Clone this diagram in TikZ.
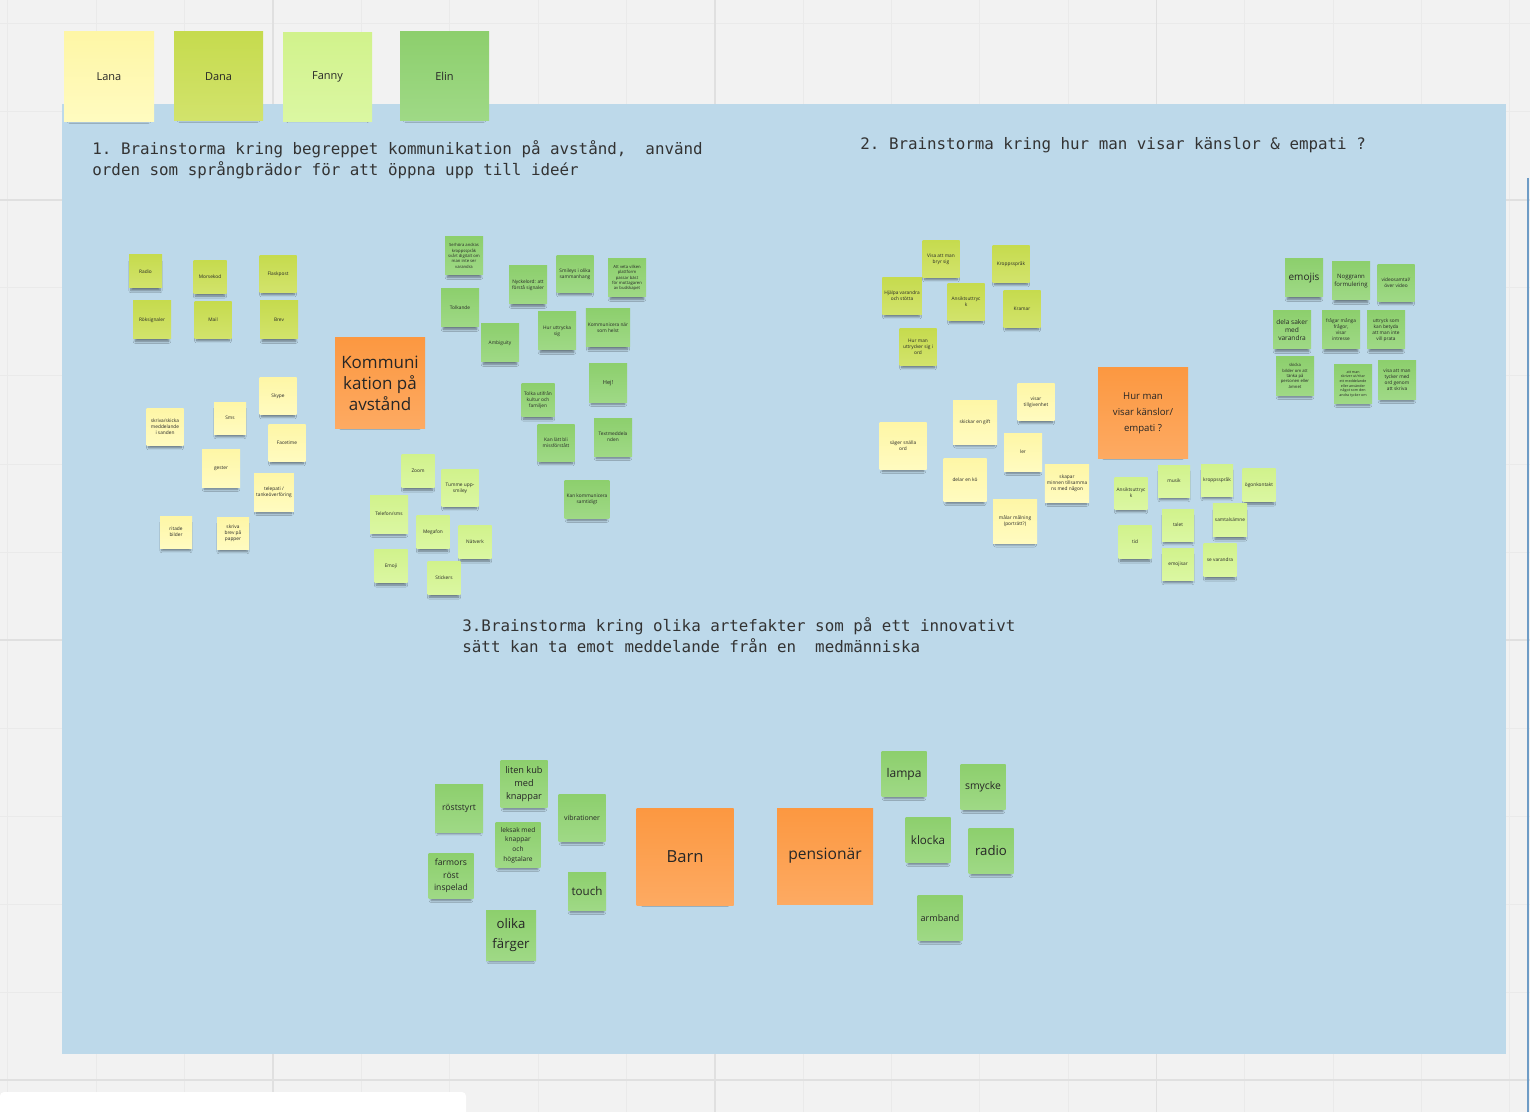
\documentclass[tikz,border=0pt]{standalone}
\usepackage{fontspec}
\setmainfont{Open Sans}
\setmonofont{DejaVu Sans Mono}
\usepackage{tikz}
\usetikzlibrary{shadows.blur}

\definecolor{board}{HTML}{F2F2F2}
\definecolor{gridfine}{HTML}{EAEAEA}
\definecolor{gridheavy}{HTML}{E0E0E0}
\definecolor{panel}{HTML}{BDD9EA}
\definecolor{edgeblue}{HTML}{6E9CC6}
\definecolor{lanaA}{HTML}{FEF6A6}
\definecolor{lanaB}{HTML}{FFFBC0}
\definecolor{danaA}{HTML}{C6DB4E}
\definecolor{danaB}{HTML}{D2E36C}
\definecolor{fannyA}{HTML}{D1F28C}
\definecolor{fannyB}{HTML}{DBF7A2}
\definecolor{elinA}{HTML}{8DCF6D}
\definecolor{elinB}{HTML}{9FD986}
\definecolor{topicA}{HTML}{FC9841}
\definecolor{topicB}{HTML}{FDAA62}

\begin{document}
\begin{tikzpicture}[x=0.5pt,y=-0.5pt,
  every node/.style={inner sep=1pt, align=center, text=black!85},
  note/.style={minimum size=#1*0.5pt,
    blur shadow={shadow xshift=0pt, shadow yshift=-2.6pt, shadow scale=0.88,
      shadow blur radius=1.2pt, shadow opacity=45, shadow blur steps=6},
    font=\fontsize{2.4}{3}\selectfont},
  lana/.style={note=#1, top color=lanaA, bottom color=lanaB},
  dana/.style={note=#1, top color=danaA, bottom color=danaB},
  fanny/.style={note=#1, top color=fannyA, bottom color=fannyB},
  elin/.style={note=#1, top color=elinA, bottom color=elinB},
  topic/.style={note=#1, top color=topicA, bottom color=topicB},
  task/.style={anchor=north west, align=left, inner sep=0pt, text=black!80,
    font=\ttfamily\fontsize{7.92}{10.5}\selectfont}]
  \useasboundingbox (0,0) rectangle (1530,1112);
  % board
  \fill[board] (0,0) rectangle (1530,1112);
  \draw[gridfine, line width=0.5pt, xstep=44.175pt, ystep=44pt, shift={(273,200)}]
    (-273,-200) grid (1257,912);
  \draw[gridheavy, line width=0.8pt, xstep=220.875pt, ystep=220pt, shift={(273,200)}]
    (-273,-200) grid (1257,912);
  \fill[panel] (62,104) rectangle (1506,1054);
  \draw[edgeblue, line width=1pt] (1528,178) -- (1528,1112);
  \fill[white, rounded corners=2pt] (0,1092) rectangle (466,1125);

  % group members
  \node[lana=90, font=\fontsize{5.5}{7}\selectfont] (lana) at (109,77) {Lana};
  \node[dana=89, font=\fontsize{5.5}{7}\selectfont] (dana) at (218.5,76.5) {Dana};
  \node[fanny=89, font=\fontsize{5.5}{7}\selectfont] (fanny) at (327.5,77) {Fanny};
  \node[elin=89, font=\fontsize{5.5}{7}\selectfont] (elin) at (444.5,76.5) {Elin};

  % tasks
  \node[task] (task1) at (92,140) {1. Brainstorma kring begreppet kommunikation på avstånd,\ \ använd\\orden som språngbrädor för att öppna upp till ideér};
  \node[task] (task2) at (860,137) {2. Brainstorma kring hur man visar känslor \& empati ?};
  \node[task] (task3) at (462,617) {3.Brainstorma kring olika artefakter som på ett innovativt\\sätt kan ta emot meddelande från en\ \ medmänniska};

  % 1: kommunikation
  \node[topic=90, font=\fontsize{8.5}{10.5}\selectfont] (kommunikation) at (380,383) {Kommuni\\kation på\\avstånd};
  \node[dana=33] (radio) at (145.5,271.5) {Radio};
  \node[dana=33] (morsekod) at (210,277) {Morsekod};
  \node[dana=37] (flaskpost) at (278,274) {Flaskpost};
  \node[dana=38] (roksignaler) at (152,320) {Röksignaler};
  \node[dana=37] (mail) at (213,320) {Mail};
  \node[dana=38] (brev) at (279,320) {Brev};
  \node[lana=37] (skype) at (278,396) {Skype};
  \node[lana=32] (sms) at (230,418) {Sms};
  \node[lana=37] (sanden) at (165,427) {skriva/skicka\\meddelande\\i sanden};
  \node[lana=37] (facetime) at (287,443) {Facetime};
  \node[lana=38] (gester) at (221,468) {gester};
  \node[lana=38] (telepati) at (274,492) {telepati /\\tankeöverföring};
  \node[lana=32] (bilder) at (176,532) {ritade\\bilder};
  \node[lana=32] (papper) at (233,533) {skriva\\brev på\\papper};
  \node[elin=38, font=\fontsize{2.1}{2.7}\selectfont] (kroppssprak) at (464,256) {Se/höra andras\\kroppsspråk\\svårt digitalt om\\man inte ser\\varandra};
  \node[elin=38] (signaler) at (528,285) {Nyckelord: att\\förstå signaler};
  \node[elin=37] (smileys) at (575,274) {Smileys i olika\\sammanhang};
  \node[elin=38, font=\fontsize{2.1}{2.7}\selectfont] (plattform) at (627,278) {Att veta vilken\\plattform\\passar bäst\\för mottagaren\\av budskapet};
  \node[elin=38] (tolkande) at (460,308) {Tolkande};
  \node[elin=38] (ambiguity) at (500,343) {Ambiguity};
  \node[elin=38] (uttrycka) at (557,331) {Hur uttrycka\\sig};
  \node[elin=38] (narsomhelst) at (608,328) {Kommunicera när\\som helst};
  \node[elin=38, font=\fontsize{2.8}{3.4}\selectfont] (hej) at (608,383) {Hej!};
  \node[elin=33] (kultur) at (538,400) {Tolka utifrån\\kultur och\\familjen};
  \node[elin=37] (missforstatt) at (556,443) {Kan lätt bli\\missförstått};
  \node[elin=38] (textmeddelanden) at (613,437) {Textmeddela\\nden};
  \node[elin=38] (samtidigt) at (587,499) {Kan kommunicera\\samtidigt};
  \node[fanny=33] (zoom) at (418,471) {Zoom};
  \node[fanny=37] (tumme) at (460,488) {Tumme upp-\\smiley};
  \node[fanny=38] (telefon) at (389,514) {Telefon/sms};
  \node[fanny=33] (megafon) at (433,532) {Megafon};
  \node[fanny=33] (natverk) at (475,542) {Nätverk};
  \node[fanny=33] (emoji) at (391,566) {Emoji};
  \node[fanny=33] (stickers) at (444,578) {Stickers};

  % 2: kanslor och empati
  \node[topic=90, font=\fontsize{4.8}{8}\selectfont] (empati) at (1143,413) {Hur man\\visar känslor/\\empati ?};
  \node[dana=37] (bryrsig) at (941,259) {Visa att man\\bryr sig};
  \node[dana=37] (kropp) at (1011,264) {Kroppsspråk};
  \node[dana=37] (hjalpa) at (902,296) {Hjälpa varandra\\och stötta};
  \node[dana=37] (ansikte) at (966,302) {Ansiktsuttryc\\k};
  \node[dana=37] (kramar) at (1022,309) {Kramar};
  \node[dana=37] (iord) at (918,347) {Hur man\\uttrycker sig i\\ord};
  \node[lana=37] (tillgivenhet) at (1036,402) {visar\\tillgivenhet};
  \node[lana=44] (gift) at (975,422) {skickar en gift};
  \node[lana=47] (snalla) at (903,446) {säger snälla\\ord};
  \node[lana=38] (ler) at (1023,452) {ler};
  \node[lana=43] (delar) at (965,480) {delar en kö};
  \node[lana=38] (minnen) at (1067,483) {skapar\\minnen tillsamma\\ns med någon};
  \node[lana=44] (portratt) at (1015,521) {målar målning\\(porträtt?)};
  \node[elin=38, font=\fontsize{5}{6}\selectfont] (emojis) at (1304,278) {emojis};
  \node[elin=38, font=\fontsize{3}{3.8}\selectfont] (noggrann) at (1351,281) {Noggrann\\formulering};
  \node[elin=37] (video) at (1396,283) {videosamtal/\\över video};
  \node[elin=38, font=\fontsize{3.3}{4.2}\selectfont] (delasaker) at (1292,330) {dela saker\\med\\varandra};
  \node[elin=38] (intresse) at (1341,330) {frågar många\\frågor,\\visar\\intresse};
  \node[elin=38] (prata) at (1386,330) {uttryck som\\kan betyda\\att man inte\\vill prata};
  \node[elin=38, font=\fontsize{2.1}{2.7}\selectfont] (personen) at (1295,376) {skicka\\bilder om att\\tänka på\\personen eller\\ämnet};
  \node[elin=38, font=\fontsize{1.8}{2.3}\selectfont] (meddelande) at (1353,384) {att man\\skriver ut/ritar\\ett meddelande\\eller använder\\något som den\\andra tycker om};
  \node[elin=38] (skriva) at (1397,380) {visa att man\\tycker med\\ord genom\\att skriva};
  \node[fanny=32] (ansikte2) at (1131,493) {Ansiktsuttryc\\k};
  \node[fanny=32] (musik) at (1174,481) {musik};
  \node[fanny=32] (kropp2) at (1217,480) {kroppsspråk};
  \node[fanny=33] (ogonkontakt) at (1259,485) {ögonkontakt};
  \node[fanny=33] (samtalsamne) at (1230,520) {samtalsämne};
  \node[fanny=32] (talet) at (1178,525) {talet};
  \node[fanny=33] (tid) at (1135,542) {tid};
  \node[fanny=32] (emojisar) at (1178,564) {emojisar};
  \node[fanny=33] (sevarandra) at (1220,560) {se varandra};

  % 3: artefakter
  \node[topic=97, font=\fontsize{8.3}{10}\selectfont] (barn) at (685,857) {Barn};
  \node[topic=96, font=\fontsize{7.8}{10}\selectfont] (pensionar) at (825,856) {pensionär};
  \node[elin=48, font=\fontsize{4.3}{6}\selectfont] (roststyrt) at (459,808) {röststyrt};
  \node[elin=47, font=\fontsize{4.6}{6.5}\selectfont] (kub) at (524,784) {liten kub\\med\\knappar};
  \node[elin=47, font=\fontsize{3.5}{4.5}\selectfont] (vibrationer) at (582,818) {vibrationer};
  \node[elin=45, font=\fontsize{3.3}{4.8}\selectfont] (leksak) at (518,845) {leksak med\\knappar\\och\\högtalare};
  \node[elin=45, font=\fontsize{4.3}{6.2}\selectfont] (farmor) at (451,876) {farmors\\röst\\inspelad};
  \node[elin=38, font=\fontsize{5.8}{7}\selectfont] (touch) at (587,891) {touch};
  \node[elin=50, font=\fontsize{6.6}{10}\selectfont] (farger) at (511,935) {olika\\färger};
  \node[elin=45, font=\fontsize{6}{7}\selectfont] (lampa) at (904,774) {lampa};
  \node[elin=45, font=\fontsize{5.2}{6.5}\selectfont] (smycke) at (983,787) {smycke};
  \node[elin=45, font=\fontsize{5.8}{7}\selectfont] (klocka) at (928,840) {klocka};
  \node[elin=45, font=\fontsize{6.6}{8}\selectfont] (radio2) at (991,851) {radio};
  \node[elin=45, font=\fontsize{4.5}{6}\selectfont] (armband) at (940,918) {armband};
\end{tikzpicture}
\end{document}
